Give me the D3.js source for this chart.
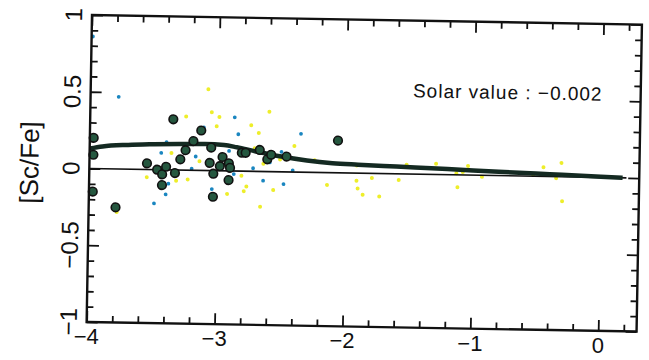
<!DOCTYPE html>
<html>
<head>
<meta charset="utf-8">
<script src="https://d3js.org/d3.v7.min.js"></script>
<style>
  body { margin: 0; background: #fff; }
  svg { display: block; }
  text { font-family: "Liberation Sans", Arial, sans-serif; fill: #111; }
</style>
</head>
<body>
<svg id="chart" width="649" height="360"></svg>
<script>
// big dark-green stars
const bigX = [-3.97,-3.97,-3.97,-3.79,-3.35,-3.13,-3.55,-3.47,-3.43,-3.40,-3.33,-3.43,-3.29,-3.25,-3.19,-3.05,-3.06,-3.03,-2.98,-2.96,-2.91,-2.90,-2.91,-3.03,-2.81,-2.78,-2.67,-2.61,-2.58,-2.46,-2.06];
const bigY = [0.20,0.09,-0.15,-0.25,0.33,0.26,0.04,0.00,-0.03,0.02,-0.02,-0.10,0.07,0.13,0.19,0.15,0.05,-0.02,0.03,0.09,0.05,0.02,-0.06,-0.17,0.12,0.12,0.14,0.08,0.11,0.10,0.21];

// small blue dots
const blueX = [-3.99,-3.78,-3.44,-3.40,-3.17,-3.11,-3.20,-2.87,-2.84,-2.87,-2.72,-2.64,-2.48,-2.50,-2.35,-2.41,-3.04,-3.49,-3.40,-3.38,-3.03,-2.91,-2.59];
const blueY = [0.86,0.47,0.11,0.18,0.09,0.28,0.01,0.35,0.24,-0.02,0.02,-0.06,-0.08,0.13,0.25,0.01,-0.12,-0.22,-0.16,-0.09,0.15,0.13,0.06];

// small yellow dots
const yellowX = [-3.08,-3.05,-3.25,-2.99,-3.01,-2.60,-2.74,-2.68,-3.36,-3.55,-3.32,-3.23,-2.92,-2.81,-2.77,-2.79,-2.66,-2.56,-2.64,-2.71,-2.51,-2.40,-3.14,-3.78,-2.24,-2.14,-1.91,-1.90,-1.86,-1.79,-1.73,-1.58,-1.52,-1.29,-1.13,-1.12,-1.08,-1.04,-0.93,-0.53,-0.45,-0.35,-0.31,-0.30,-1.91];
const yellowY = [0.53,0.38,0.35,0.35,0.29,0.39,0.30,0.25,0.11,-0.05,-0.07,-0.06,-0.15,-0.03,-0.10,-0.13,-0.23,-0.12,0.05,0.15,0.08,0.17,0.06,-0.28,0.08,-0.08,-0.05,-0.10,-0.14,-0.03,-0.15,-0.04,0.06,0.07,0.01,-0.08,0.02,0.06,-0.01,0.01,0.06,-0.01,0.09,-0.16,0.05];

// smoothed trend and the zero line
const trendX = [-4.0,-3.9,-3.7,-3.5,-3.3,-3.1,-2.95,-2.85,-2.7,-2.5,-2.3,-2.1,-1.9,-1.6,-1.2,-0.8,-0.4,0.0,0.17];
const trendY = [0.13,0.145,0.158,0.165,0.17,0.172,0.168,0.155,0.13,0.1,0.077,0.062,0.055,0.047,0.037,0.025,0.015,0.005,0.0];
const zeroX = [-4, 0.2];
const zeroY = [0, 0];

const xMajor = [-4,-3,-2,-1,0];
const xMinor = [-3.8,-3.6,-3.4,-3.2,-2.8,-2.6,-2.4,-2.2,-1.8,-1.6,-1.4,-1.2,-0.8,-0.6,-0.4,-0.2,0.2];
const yMajor = [-1,-0.5,0,0.5,1];
const yMinor = [-0.9,-0.8,-0.7,-0.6,-0.4,-0.3,-0.2,-0.1,0.1,0.2,0.3,0.4,0.6,0.7,0.8,0.9];

const yTitle = '[Sc/Fe]';
const note = 'Solar value : \u22120.002';

const svg = d3.select('#chart');
const margin = { left: 92, top: 15 };
const innerWidth = 550, innerHeight = 307;
const tilt = 1; // the scanned page is slightly rotated

const g = svg.append('g')
    .attr('transform', `translate(${margin.left},${margin.top}) rotate(${tilt})`);

const x = d3.scaleLinear().domain([-4, 0.3]).range([0, innerWidth]);
const y = d3.scaleLinear().domain([-1, 1]).range([innerHeight, 0]);
const fmt = d3.format('');

// ticks (inward, on all four sides)
function ticks(axisFn, vals, len, tr) {
    const a = g.append('g').attr('transform', tr)
        .call(axisFn.tickValues(vals).tickSize(len).tickSizeOuter(0).tickFormat(''));
    a.select('.domain').remove();
    a.selectAll('line').attr('stroke', '#111').attr('stroke-width', 1.8);
}
ticks(d3.axisBottom(x), xMajor, -11, `translate(0,${innerHeight})`);
ticks(d3.axisBottom(x), xMinor, -6.5, `translate(0,${innerHeight})`);
ticks(d3.axisTop(x), xMajor, -11, 'translate(0,0)');
ticks(d3.axisTop(x), xMinor, -6.5, 'translate(0,0)');
ticks(d3.axisLeft(y), yMajor, -11, 'translate(0,0)');
ticks(d3.axisLeft(y), yMinor, -6.5, 'translate(0,0)');
ticks(d3.axisRight(y), yMajor, -11, `translate(${innerWidth},0)`);
ticks(d3.axisRight(y), yMinor, -6.5, `translate(${innerWidth},0)`);

// x tick labels: kept upright, placed where the tilted axis puts them
const rad = tilt * Math.PI / 180;
g.selectAll('.xlab').data(xMajor).enter().append('text')
    .attr('transform', d => `translate(${x(d)},${innerHeight + 22}) rotate(${-tilt})`)
    .attr('text-anchor', 'middle').attr('font-size', 22)
    .text(d => fmt(d));
g.selectAll('.ylab').data(yMajor).enter().append('text')
    .attr('transform', d => `translate(-10,${y(d)}) rotate(-90)`)
    .attr('text-anchor', 'middle').attr('font-size', 24)
    .text(d => fmt(d));

g.append('text')
    .attr('transform', `translate(-51,${innerHeight / 2 - 5}) rotate(-90)`)
    .attr('text-anchor', 'middle').attr('font-size', 26)
    .text(yTitle);

g.append('text')
    .attr('x', x(-1.48)).attr('y', y(0.50))
    .attr('font-size', 19).attr('letter-spacing', 1)
    .text(note);

// small dots
g.selectAll('.yel').data(d3.zip(yellowX, yellowY)).enter().append('circle')
    .attr('cx', d => x(d[0])).attr('cy', d => y(d[1])).attr('r', 2)
    .attr('fill', '#eeee2a');
g.selectAll('.blu').data(d3.zip(blueX, blueY)).enter().append('circle')
    .attr('cx', d => x(d[0])).attr('cy', d => y(d[1])).attr('r', 1.9)
    .attr('fill', '#1a86c0');

// lines
const line = d3.line().x(d => x(d[0])).y(d => y(d[1]));
g.append('path').datum(d3.zip(zeroX, zeroY))
    .attr('d', line).attr('fill', 'none').attr('stroke', '#111').attr('stroke-width', 1.6);
g.append('path').datum(d3.zip(trendX, trendY))
    .attr('d', line.curve(d3.curveMonotoneX)).attr('fill', 'none')
    .attr('stroke', '#142a22').attr('stroke-width', 4.5);

// big circles
g.selectAll('.big').data(d3.zip(bigX, bigY)).enter().append('circle')
    .attr('cx', d => x(d[0])).attr('cy', d => y(d[1])).attr('r', 4.3)
    .attr('fill', '#25573f').attr('stroke', '#111').attr('stroke-width', 1.6);

// frame
g.append('rect').attr('width', innerWidth).attr('height', innerHeight)
    .attr('fill', 'none').attr('stroke', '#111').attr('stroke-width', 2.4);
</script>
</body>
</html>
